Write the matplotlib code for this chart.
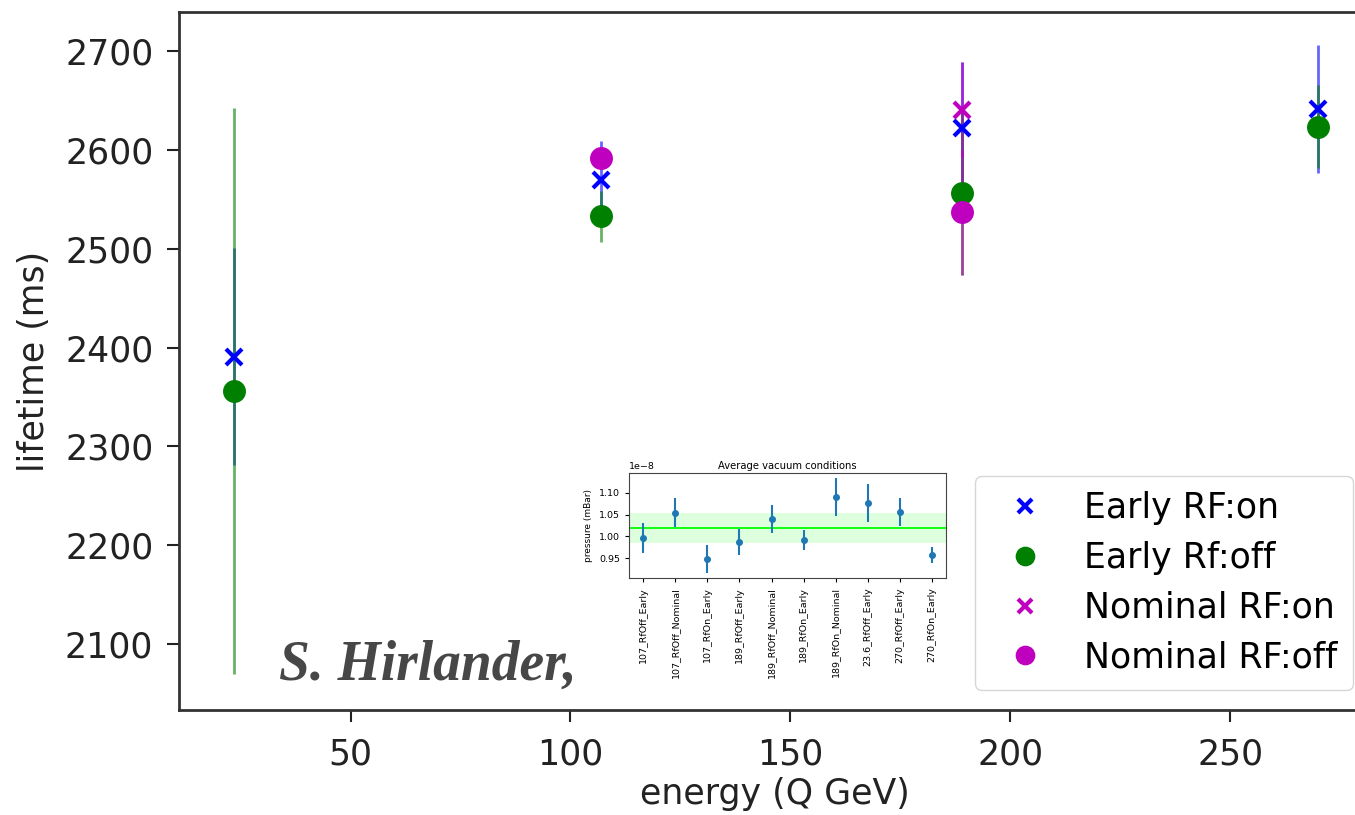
import numpy as np
import matplotlib
matplotlib.use('Agg')
import matplotlib.pyplot as plt
from matplotlib.lines import Line2D

# lifetime measurements (ms) vs energy (GeV)
energyEarlyOn = [23.6, 107, 189, 270]
lifeEarlyOn = [2391, 2570, 2622, 2642]
errEarlyOn = [110, 39, 67, 65]

energyEarlyOff = [23.6, 107, 189, 270]
lifeEarlyOff = [2356, 2533, 2557, 2624]
errEarlyOff = [287, 26, 83, 42]

energyNominalOn = [189]
lifeNominalOn = [2641]
errNominalOn = [48]

energyNominalOff = [107, 189]
lifeNominalOff = [2592, 2537]
errNominalOff = [10, 63]

# inset: average vacuum pressure per run (mBar, x1e-8)
runNames = ['107_RfOff_Early', '107_RfOff_Nominal', '107_RfOn_Early', '189_RfOff_Early',
            '189_RfOff_Nominal', '189_RfOn_Early', '189_RfOn_Nominal', '23.6_RfOff_Early',
            '270_RfOff_Early', '270_RfOn_Early']
pressure = [0.997, 1.054, 0.948, 0.988, 1.040, 0.991, 1.090, 1.076, 1.056, 0.957]
pressureErr = [0.034, 0.033, 0.032, 0.030, 0.032, 0.023, 0.044, 0.044, 0.032, 0.018]
pressureMean = 1.020
pressureBand = 0.034

fig = plt.figure(figsize=(13.55, 8.15), dpi=100)
ax = fig.add_axes([0.1321, 0.1288, 0.8797, 0.8565])

series = [
    (energyEarlyOn, lifeEarlyOn, errEarlyOn, 'b', 'x', 'Early RF:on'),
    (energyEarlyOff, lifeEarlyOff, errEarlyOff, 'g', 'o', 'Early Rf:off'),
    (energyNominalOn, lifeNominalOn, errNominalOn, 'm', 'x', 'Nominal RF:on'),
    (energyNominalOff, lifeNominalOff, errNominalOff, 'm', 'o', 'Nominal RF:off'),
]

# error bars first, markers on top
for xs, ys, es, col, mk, lab in series:
    ax.errorbar(xs, ys, yerr=es, fmt='none', ecolor=col, elinewidth=2, alpha=0.6, zorder=2)

handles = []
for xs, ys, es, col, mk, lab in series:
    if mk == 'o':
        h, = ax.plot(xs, ys, linestyle='none', marker='o', ms=15.5, color=col, label=lab, zorder=3)
    else:
        h, = ax.plot(xs, ys, linestyle='none', marker='x', ms=12, mew=3, color=col, label=lab, zorder=3)
    handles.append(h)

ax.set_xlim(11, 282)
ax.set_ylim(2033, 2740)
ax.set_xticks([50, 100, 150, 200, 250])
ax.set_yticks([2100, 2200, 2300, 2400, 2500, 2600, 2700])
ax.tick_params(labelsize=25, length=8.5, width=1.5, colors='#222222')
ax.tick_params(axis='x', pad=11)
ax.tick_params(axis='y', pad=10)
for sp in ax.spines.values():
    sp.set_linewidth(2)
    sp.set_color('#333333')
ax.set_xlabel('energy (Q GeV)', fontsize=25, color='#222222', labelpad=4)
ax.set_ylabel('lifetime (ms)', fontsize=25, color='#222222', labelpad=10)

legendHandles = [Line2D([], [], linestyle='none', marker=h.get_marker(), ms=h.get_markersize() * 0.85,
                        mew=h.get_markeredgewidth(), color=h.get_color()) for h in handles]
fig.legend(legendHandles, [s[5] for s in series], loc='lower right',
           bbox_to_anchor=(0.9985, 0.1534), bbox_transform=fig.transFigure, borderaxespad=0,
           fontsize=25, labelspacing=0.45, borderpad=0.45, handletextpad=0.7)

# author stamp
fig.text(0.206, 0.1656, 'S. Hirlander,', family='Liberation Serif', style='italic',
         weight='bold', fontsize=40, color='#333333', va='baseline', ha='left', alpha=0.9)

# inset with the vacuum conditions
inset = fig.add_axes([0.4642, 0.2908, 0.2340, 0.1288])
pos = np.arange(len(runNames))
inset.axhspan((pressureMean - pressureBand) * 1e-8, (pressureMean + pressureBand) * 1e-8,
              color='lime', alpha=0.13, lw=0)
inset.axhline(pressureMean * 1e-8, color='lime', lw=1.3)
inset.errorbar(pos, np.array(pressure) * 1e-8, yerr=np.array(pressureErr) * 1e-8,
               fmt='o', ms=4, color='#1f77b4', elinewidth=1.5)
inset.set_xticks(pos)
inset.set_xticklabels(runNames, rotation=90, fontsize=6.8)
inset.set_yticks(np.array([0.95, 1.00, 1.05, 1.10]) * 1e-8)
inset.tick_params(labelsize=6.8, length=3, width=0.8)
inset.yaxis.get_offset_text().set_fontsize(6.8)
inset.set_ylabel('pressure (mBar)', fontsize=6.5)
inset.set_title('Average vacuum conditions', fontsize=7.2, pad=3)
for sp in inset.spines.values():
    sp.set_linewidth(0.8)
    sp.set_color('#444444')

fig.savefig('out.png', dpi=100)
